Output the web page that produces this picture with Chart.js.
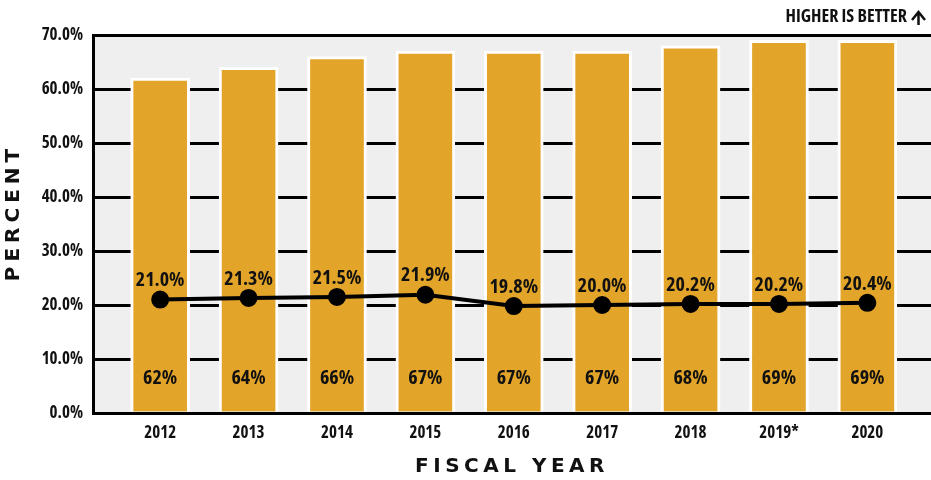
<!DOCTYPE html>
<html>
<head>
<meta charset="utf-8">
<script src="https://cdn.jsdelivr.net/npm/chart.js@4/dist/chart.umd.min.js"></script>
<style>
  html, body { margin: 0; padding: 0; background: #fff; }
  #contenedor { width: 931px; height: 480px; }
</style>
</head>
<body>
<div id="contenedor"><canvas id="grafico"></canvas></div>
<script>
// datos
const anios = ["2012", "2013", "2014", "2015", "2016", "2017", "2018", "2019*", "2020"];
const barras = [62, 64, 66, 67, 67, 67, 68, 69, 69];
const linea = [21.0, 21.3, 21.5, 21.9, 19.8, 20.0, 20.2, 20.2, 20.4];
const marcasY = [0, 10, 20, 30, 40, 50, 60, 70];

const tituloY = "PERCENT";
const tituloX = "FISCAL YEAR";
const nota = "HIGHER IS BETTER";

// fuente angosta (Open Sans con ancho condensado)
const angosta = "'Open Sans', 'DejaVu Sans', sans-serif";
const pesoAngosto = "bold condensed";
const ancha = "'DejaVu Sans', sans-serif";

// fondo gris del area de datos
const fondo = {
    id: "fondo",
    beforeDraw(chart) {
        const { ctx, chartArea: a } = chart;
        ctx.save();
        ctx.fillStyle = "#efefef";
        ctx.fillRect(a.left, a.top, a.right - a.left, a.bottom - a.top);
        ctx.restore();
    },
};

// etiquetas de valores, titulos de ejes y nota
const textos = {
    id: "textos",
    afterDatasetsDraw(chart) {
        const ctx = chart.ctx;
        const y = chart.scales.y;
        ctx.save();
        ctx.fillStyle = "#111";
        ctx.textAlign = "center";
        ctx.textBaseline = "middle";
        ctx.font = pesoAngosto + " 20px " + angosta;
        chart.getDatasetMeta(0).data.forEach((barra, i) => {
            ctx.fillText(barras[i] + "%", barra.x, y.getPixelForValue(6.5));
        });
        chart.getDatasetMeta(1).data.forEach((punto, i) => {
            ctx.fillText(linea[i].toFixed(1) + "%", punto.x, punto.y - 19);
        });
        ctx.restore();
    },
    afterDraw(chart) {
        const ctx = chart.ctx;
        const a = chart.chartArea;
        ctx.save();
        ctx.fillStyle = "#111";
        ctx.textBaseline = "middle";
        // titulos espaciados
        ctx.font = "bold 20px " + ancha;
        ctx.letterSpacing = "4.5px";
        ctx.textAlign = "center";
        ctx.fillText(tituloX, (a.left + a.right) / 2, 467);
        ctx.save();
        ctx.letterSpacing = "5px";
        ctx.translate(14, 215);
        ctx.rotate(-Math.PI / 2);
        ctx.fillText(tituloY, 2.5, 0);
        ctx.restore();
        // nota superior
        ctx.letterSpacing = "0px";
        ctx.font = pesoAngosto + " 18px " + angosta;
        ctx.textAlign = "right";
        ctx.fillText(nota, 907, 17);
        ctx.strokeStyle = "#111";
        ctx.lineWidth = 2.5;
        ctx.beginPath();
        ctx.moveTo(912, 20);
        ctx.lineTo(918.5, 12);
        ctx.lineTo(925, 20);
        ctx.moveTo(918.5, 12);
        ctx.lineTo(918.5, 25);
        ctx.stroke();
        ctx.restore();
    },
};

new Chart(document.getElementById("grafico"), {
    type: "bar",
    data: {
        datasets: [
            {
                type: "bar",
                data: barras.map((v, i) => ({ x: i, y: v })),
                backgroundColor: "#e3a42a",
                borderColor: "#ffffff",
                borderWidth: 3,
                borderSkipped: "bottom",
                barThickness: 59,
                order: 2,
            },
            {
                type: "line",
                data: linea.map((v, i) => ({ x: i, y: v })),
                borderColor: "#000",
                backgroundColor: "#000",
                borderWidth: 4,
                pointRadius: 7,
                pointHoverRadius: 7,
                tension: 0,
                order: 1,
            },
        ],
    },
    options: {
        responsive: true,
        maintainAspectRatio: false,
        animation: false,
        layout: { autoPadding: false, padding: { top: 35, left: 0, right: 0, bottom: 0 } },
        plugins: { legend: { display: false }, tooltip: { enabled: false }, title: { display: false } },
        scales: {
            x: {
                type: "linear",
                offset: false,
                min: -0.76,
                max: 8.72,
                afterBuildTicks: (s) => { s.ticks = anios.map((_, i) => ({ value: i })); },
                afterFit: (s) => { s.height = 67; s.paddingLeft = 0; s.paddingRight = 0; },
                grid: { display: false, drawTicks: false },
                border: { display: true, color: "#000", width: 3 },
                ticks: {
                    padding: 10,
                    color: "#111",
                    maxRotation: 0,
                    font: { family: angosta, size: 17, weight: pesoAngosto },
                    callback: (v) => anios[v],
                },
            },
            y: {
                min: 0,
                max: 70,
                afterBuildTicks: (s) => { s.ticks = marcasY.map((v) => ({ value: v })); },
                afterFit: (s) => { s.width = 93; },
                grid: { color: "#000", lineWidth: 3, drawTicks: false },
                border: { display: true, color: "#000", width: 3 },
                ticks: {
                    padding: 10,
                    color: "#111",
                    font: { family: angosta, size: 17, weight: pesoAngosto },
                    callback: (v) => v.toFixed(1) + "%",
                },
            },
        },
    },
    plugins: [fondo, textos],
});
</script>
</body>
</html>
